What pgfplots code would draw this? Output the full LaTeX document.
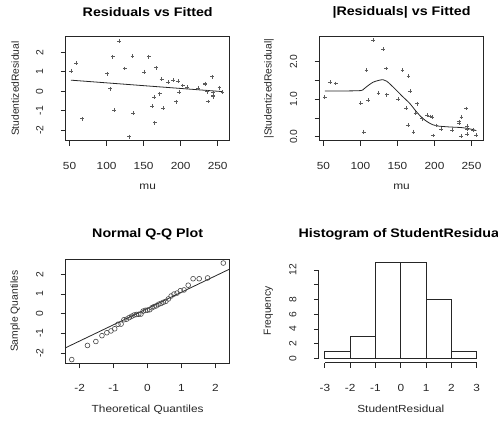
\documentclass[border=0pt]{standalone}
\usepackage{pgfplots}
\pgfplotsset{compat=1.18}
\usepackage{pgfplotstable}
\usepackage{fontspec}
\setmainfont{Liberation Sans}[FakeStretch=1.15]
\newfontfamily\uprightlab{Liberation Sans}
\definecolor{ink}{gray}{0.15}
\newcommand\basefont{\fontsize{10.3}{12}\selectfont}
\newcommand\vertfont{\uprightlab\fontsize{10.3}{12}\selectfont}
\newcommand\paneltitle{\fontsize{12.4}{14}\selectfont\bfseries}

% fitted values, studentized residuals and their absolute values
\pgfplotstableread{
mu     r      absr
51.9   1.05   1.05
58.7   1.45   1.45
66.7  -1.42   1.42
100.5  0.90   0.90
104.5  0.13   0.13
108.2  1.78   1.78
110.4 -0.97   0.97
116.8  2.58   2.58
124.4  1.17   1.17
130.6 -2.34   2.34
135.1  1.82   1.82
135.6 -1.12   1.12
150.5  1.00   1.00
156.8  1.78   1.78
161.8 -0.77   0.77
164.0 -0.31   0.31
164.9 -1.62   1.62
166.7  1.21   1.21
171.6 -0.13   0.13
174.3  0.63   0.63
176.6 -0.88   0.88
182.9  0.48   0.48
190.0  0.58   0.58
193.7 -0.54   0.54
196.4  0.52   0.52
197.8 -0.03   0.03
202.7  0.30   0.30
209.0  0.20   0.20
223.9  0.17   0.17
232.9  0.40   0.40
233.2  0.36   0.36
235.6 -0.02   0.02
236.6 -0.53   0.53
242.8  0.75   0.75
243.7 -0.07   0.07
243.9 -0.20   0.20
244.0 -0.28   0.28
252.3  0.18   0.18
256.5 -0.04   0.04
}\resid

% theoretical normal quantiles against sorted residuals
\pgfplotstableread{
q       s
-2.232 -2.34
-1.769 -1.62
-1.522 -1.42
-1.342 -1.12
-1.198 -0.97
-1.076 -0.88
-0.967 -0.77
-0.869 -0.54
-0.779 -0.53
-0.695 -0.31
-0.615 -0.28
-0.539 -0.20
-0.466 -0.13
-0.396 -0.07
-0.327 -0.04
-0.260 -0.03
-0.194 -0.02
-0.129  0.13
-0.064  0.17
 0.000  0.18
 0.064  0.20
 0.129  0.30
 0.194  0.36
 0.260  0.40
 0.327  0.48
 0.396  0.52
 0.466  0.58
 0.539  0.63
 0.615  0.75
 0.695  0.90
 0.779  1.00
 0.869  1.05
 0.967  1.17
 1.076  1.21
 1.198  1.45
 1.342  1.78
 1.522  1.78
 1.769  1.82
 2.232  2.58
}\qq

\pgfplotsset{
  rpanel/.style={
    scale only axis, width=164pt, height=104pt, anchor=south west,
    axis line style={draw=ink, line width=0.8pt},
    tick style={draw=ink, line width=0.8pt},
    major tick length=5pt, tick align=outside,
    xtick pos=left, ytick pos=left,
    minor tick num=0,
    tick label style={text=ink},
    xticklabel style={font=\basefont, anchor=center, yshift=-20pt},
    yticklabel style={font=\vertfont, anchor=center, xshift=-21pt, rotate=90},
    every axis title/.style={at={(axis description cs:0.5,1)}, anchor=center,
      yshift=24.7pt, font=\paneltitle, text=black},
    every axis x label/.style={at={(axis description cs:0.5,0)}, anchor=center,
      yshift=-46pt, font=\basefont, text=ink},
    every axis y label/.style={at={(axis description cs:0,0.5)}, anchor=center,
      xshift=-50.5pt, rotate=90, font=\vertfont, text=ink},
  },
  pts/.style={only marks, mark=+, mark size=1.9pt, color=ink!75,
    mark options={line width=0.55pt}},
}

\begin{document}
\begin{tikzpicture}
\useasboundingbox (0pt,0pt) rectangle (498pt,421pt);
\clip (0pt,0pt) rectangle (498pt,421pt);

% residuals against fitted values
\begin{axis}[rpanel, at={(65.7pt,280.3pt)},
  xmin=44.8, xmax=266.2, ymin=-2.55, ymax=2.81,
  xtick={50,100,150,200,250}, xticklabels={50,100,150,200,250},
  ytick={-2,-1,0,1,2}, yticklabels={-2,-1,0,1,2},
  title={Residuals vs Fitted}, xlabel={mu}, ylabel={StudentizedResidual}]
\addplot[pts] table[x=mu, y=r] {\resid};
\addplot[ink, line width=0.8pt] coordinates {(51.9,0.57) (256.5,-0.02)};
\end{axis}

% absolute residuals against fitted values, with smoother
\begin{axis}[rpanel, at={(319.5pt,280.3pt)},
  xmin=44.8, xmax=266.2, ymin=-0.107, ymax=2.667,
  xtick={50,100,150,200,250}, xticklabels={50,100,150,200,250},
  ytick={0,0.5,1,1.5,2}, yticklabels={0.0,,1.0,,2.0},
  title={|Residuals| vs Fitted}, xlabel={mu}, ylabel={|StudentizedResidual|}]
\addplot[pts] table[x=mu, y=absr] {\resid};
\addplot[ink, line width=0.8pt, smooth] coordinates {
  (51.9,1.22) (66.7,1.22) (80,1.22) (100.5,1.23) (104.5,1.27) (108.2,1.33)
  (116.8,1.45) (124.4,1.50) (130.6,1.52) (135.6,1.48) (146,1.29) (157,1.07)
  (166.5,0.89) (175.5,0.67) (184,0.49) (193.5,0.36) (202.7,0.29) (220,0.26)
  (238,0.24) (252,0.19) (256.5,0.16)};
\end{axis}

% normal quantile plot
\begin{axis}[rpanel, at={(65.7pt,57.7pt)},
  xmin=-2.41, xmax=2.42, ymin=-2.53, ymax=2.77,
  xtick={-2,-1,0,1,2}, xticklabels={-2,-1,0,1,2},
  ytick={-2,-1,0,1,2}, yticklabels={-2,-1,0,1,2},
  title={Normal Q-Q Plot}, xlabel={Theoretical Quantiles}, ylabel={Sample Quantiles}]
\addplot[only marks, mark=o, mark size=2.4pt, color=ink!85,
  mark options={line width=0.6pt}] table[x=q, y=s] {\qq};
\addplot[ink, line width=0.8pt] coordinates {(-2.6,-1.893) (2.6,2.423)};
\end{axis}

% histogram of residuals
\begin{axis}[rpanel, at={(318.8pt,58.3pt)}, clip=false,
  axis line style={draw=none},
  xmin=-3.24, xmax=3.24, ymin=-0.55, ymax=13.52,
  xtick={-3,-2,-1,0,1,2,3}, xticklabels={-3,-2,-1,0,1,2,3},
  ytick={0,2,4,6,8,10,12}, yticklabels={0,2,4,6,8,,12},
  title={Histogram of StudentResidual}, xlabel={StudentResidual}, ylabel={Frequency}]
\addplot[ybar interval, fill=white, draw=ink, line width=0.8pt]
  coordinates {(-3,1) (-2,3) (-1,13) (0,13) (1,8) (2,1) (3,1)};
\draw[ink, line width=0.8pt] (axis cs:-3,-0.55) -- (axis cs:3,-0.55);
\draw[ink, line width=0.8pt] (axis cs:-3.24,0) -- (axis cs:-3.24,12);
\end{axis}
\end{tikzpicture}
\end{document}
